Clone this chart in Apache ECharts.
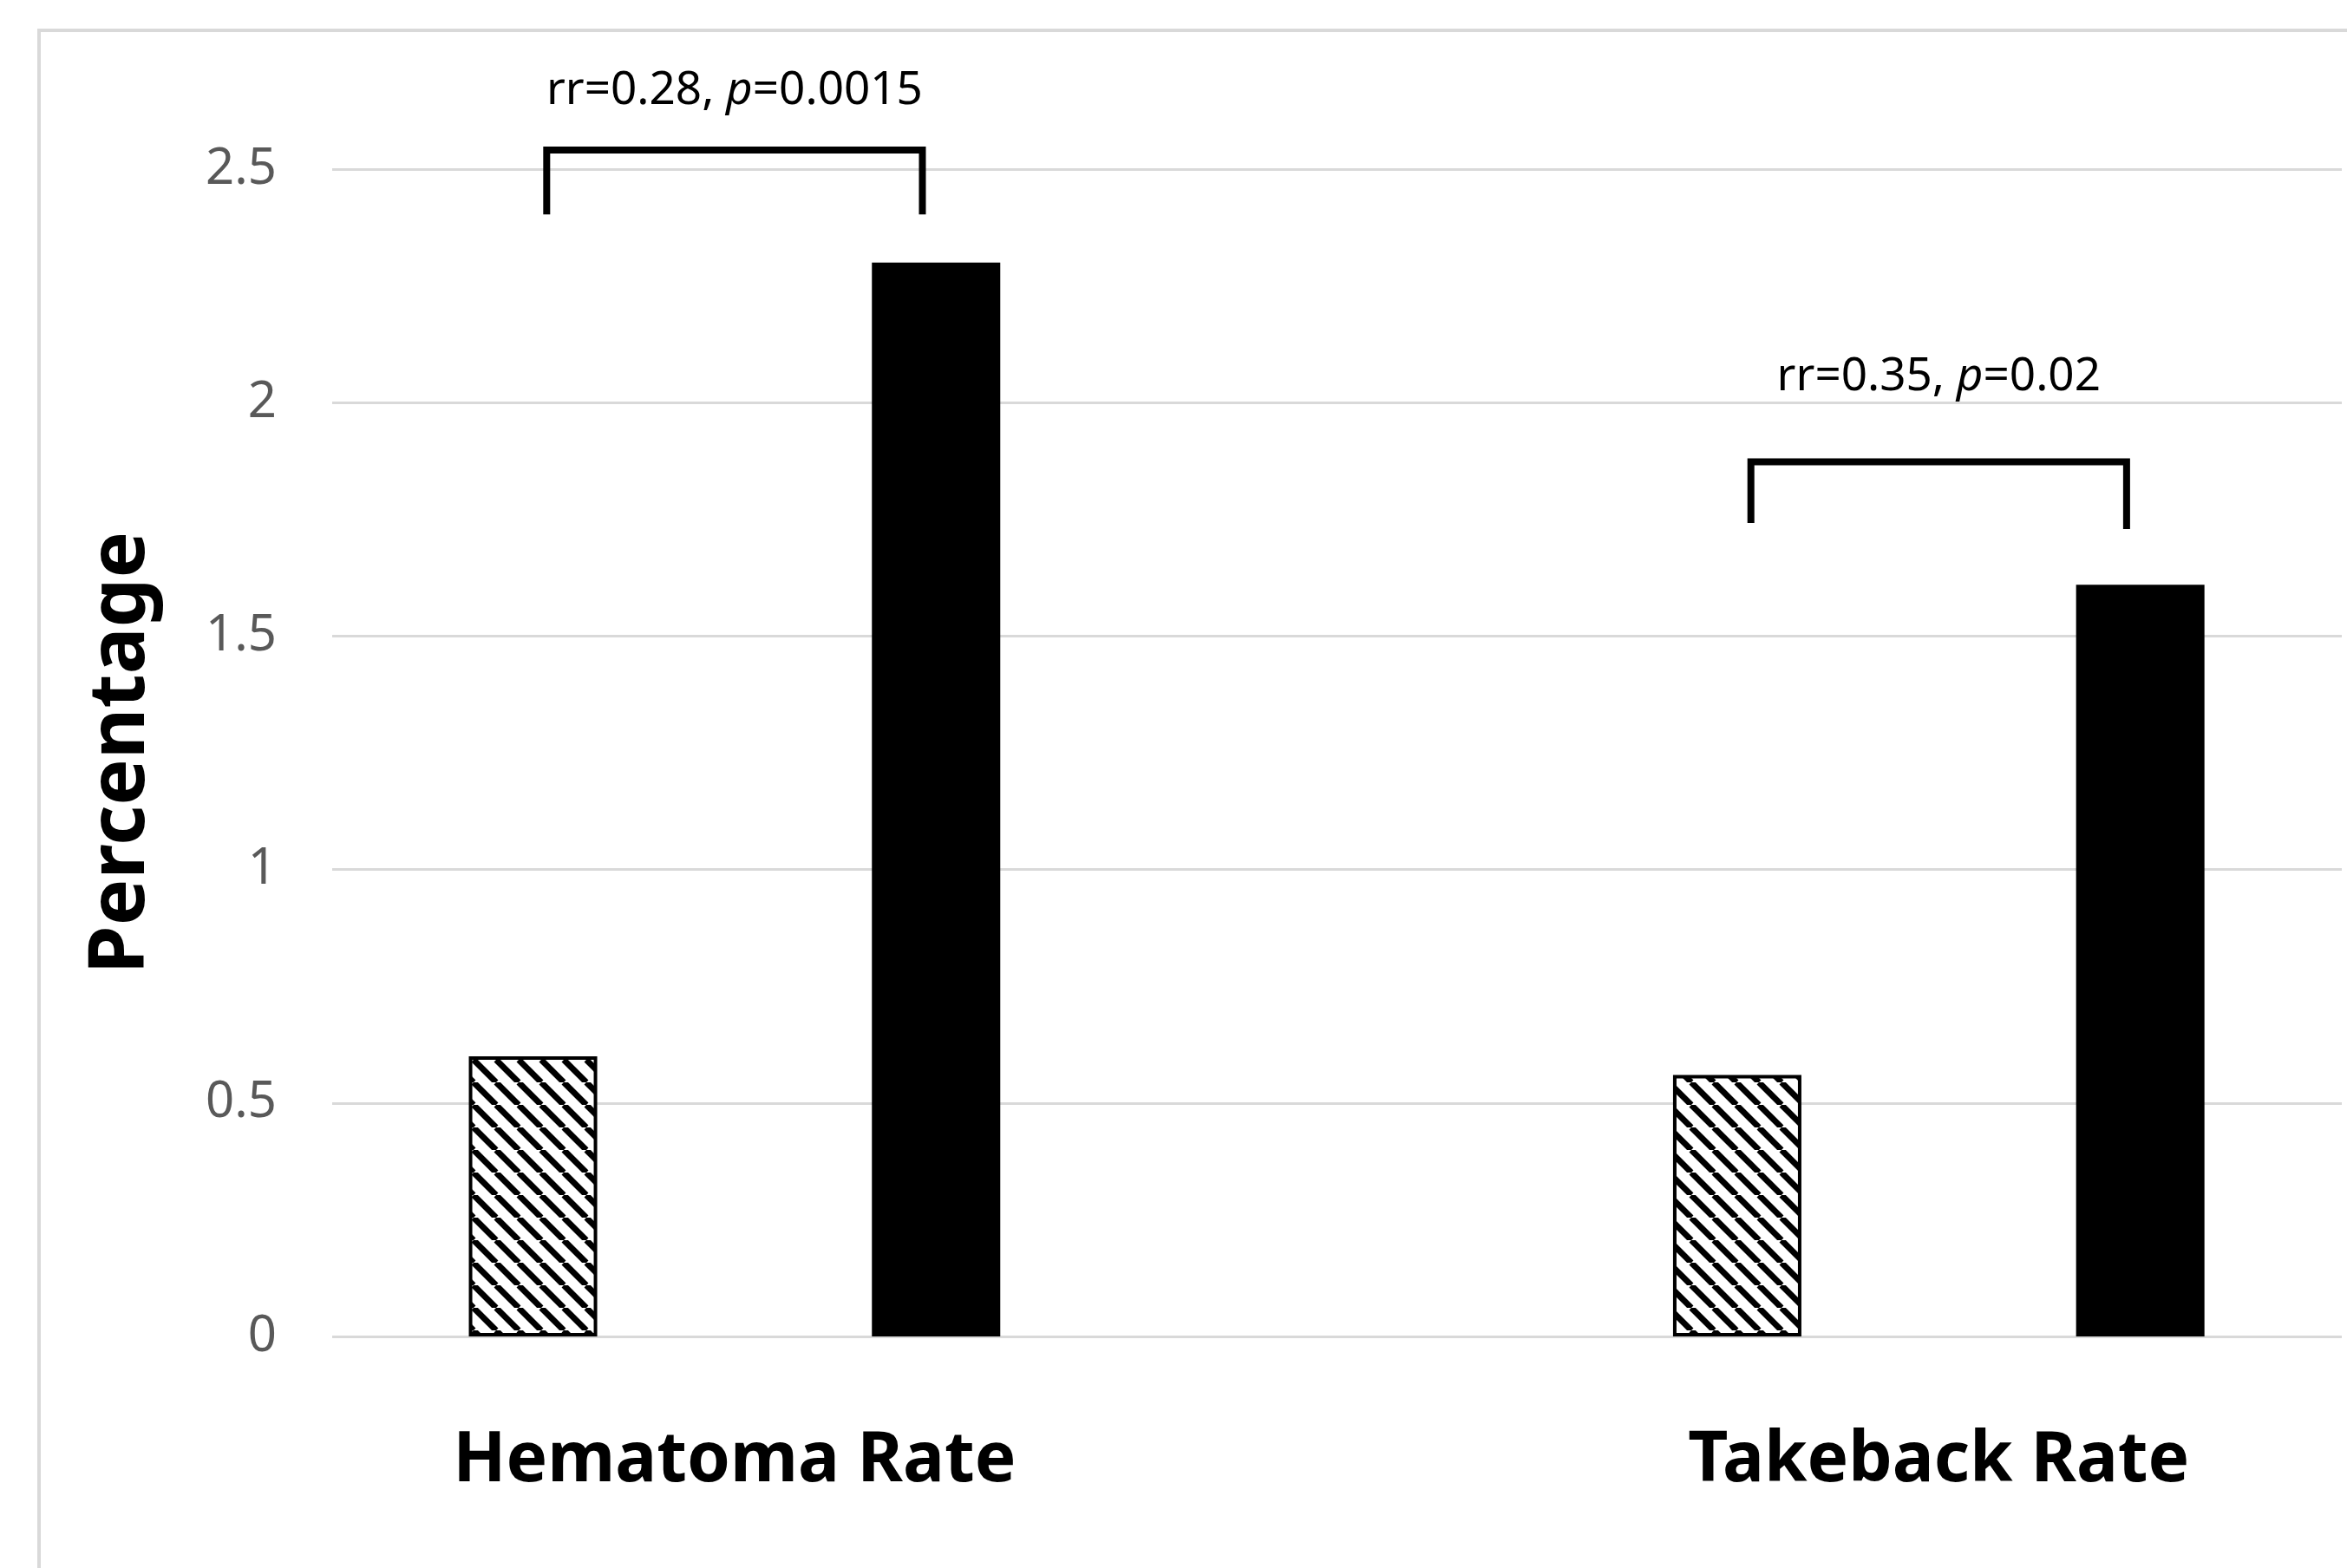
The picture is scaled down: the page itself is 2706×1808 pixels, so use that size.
<!DOCTYPE html>
<html>
<head>
<meta charset="utf-8">
<script src="https://cdn.jsdelivr.net/npm/echarts@6/dist/echarts.min.js"></script>
<style>
html,body{margin:0;padding:0;background:#ffffff;}
#chart{width:2706px;height:1808px;}
</style>
</head>
<body>
<div id="chart"></div>
<script>
// ---- data ----
const categories = ['Hematoma Rate', 'Takeback Rate'];
const hatchedValues = [0.60, 0.56];
const solidValues = [2.30, 1.61];
const yTickMin = 0, yTickMax = 2.5, yTickStep = 0.5;
const rrValues = ['0.28', '0.35'];
const pValues = ['0.0015', '0.02'];
const bracketTop = [2.541, 1.873];
const bracketLeftFoot = [2.403, 1.742];
const bracketRightFoot = [2.403, 1.729];
const annotationLevel = [2.667, 2.054];

// ---- hatch pattern ----
function makeHatch() {
  const s = 26;
  const c = document.createElement('canvas');
  c.width = s; c.height = s;
  const g = c.getContext('2d');
  g.fillStyle = '#ffffff';
  g.fillRect(0, 0, s, s);
  g.strokeStyle = '#000000';
  g.lineWidth = 7;
  g.beginPath();
  for (let k = -1; k <= 1; k++) {
    g.moveTo(k * s, 0);
    g.lineTo(k * s + s, s);
  }
  g.stroke();
  return c;
}

const chart = echarts.init(document.getElementById('chart'), null, {renderer: 'canvas'});
const FONT = "'Noto Sans', 'Open Sans', sans-serif";

const option = {
  animation: false,
  backgroundColor: '#ffffff',
  textStyle: {fontFamily: FONT},
  graphic: [{
    type: 'rect', silent: true, z: 0,
    shape: {x: 45, y: 35, width: 3000, height: 3000},
    style: {fill: 'none', stroke: '#d9d9d9', lineWidth: 4}
  }],
  grid: [
    {left: 383, right: 6, top: 195, height: 1346},
    {left: 846.9, width: 1388.4, top: 195, height: 1346}
  ],
  xAxis: [
    {gridIndex: 0, type: 'category', data: categories, show: false},
    {
      gridIndex: 1, type: 'category', data: categories, boundaryGap: false,
      axisLine: {show: false}, axisTick: {show: false}, splitLine: {show: false},
      axisLabel: {
        show: true, interval: 0, margin: 104,
        fontFamily: FONT, fontSize: 80, fontWeight: 'bold', color: '#000000', lineHeight: 80
      }
    }
  ],
  yAxis: [
    {
      gridIndex: 0, type: 'value', min: yTickMin, max: yTickMax, interval: yTickStep,
      axisLine: {show: false}, axisTick: {show: false},
      splitLine: {show: true, lineStyle: {color: '#d9d9d9', width: 3}},
      axisLabel: {color: '#595959', fontSize: 58, fontFamily: FONT, margin: 64},
      name: 'Percentage', nameLocation: 'middle', nameRotate: 90, nameGap: 198,
      nameTextStyle: {fontSize: 90, fontWeight: 'bold', color: '#000000', fontFamily: FONT}
    },
    {
      gridIndex: 1, type: 'value', min: yTickMin, max: yTickMax, interval: yTickStep, show: false,
      splitLine: {show: false}
    }
  ],
  series: [
    {
      type: 'bar', xAxisIndex: 1, yAxisIndex: 1, clip: false,
      data: hatchedValues, barWidth: 148, barGap: '214%',
      itemStyle: {
        color: {image: makeHatch(), repeat: 'repeat'},
        borderColor: '#000000', borderWidth: 4
      }
    },
    {
      type: 'bar', xAxisIndex: 1, yAxisIndex: 1, clip: false,
      data: solidValues, barWidth: 148, barGap: '214%',
      itemStyle: {color: '#000000'}
    },
    {
      type: 'custom', xAxisIndex: 1, yAxisIndex: 1, clip: false, z: 10,
      data: categories.map((c, i) => [i, bracketTop[i], bracketLeftFoot[i], bracketRightFoot[i], annotationLevel[i]]),
      renderItem: function (params, api) {
        const i = api.value(0);
        const band = api.size([1, 0])[0];
        const cx = api.coord([i, 0])[0];
        const off = band * 0.156;
        const xl = cx - off, xr = cx + off;
        const yT = api.coord([i, api.value(1)])[1];
        const yL = api.coord([i, api.value(2)])[1];
        const yR = api.coord([i, api.value(3)])[1];
        const yA = api.coord([i, api.value(4)])[1];
        const idx = params.dataIndex;
        return {
          type: 'group',
          children: [
            {
              type: 'polyline',
              shape: {points: [[xl, yL], [xl, yT], [xr, yT], [xr, yR]]},
              style: {fill: 'none', stroke: '#000000', lineWidth: 8, lineJoin: 'miter'}
            },
            {
              type: 'text',
              style: {
                x: (xl + xr) / 2, y: yA,
                text: '{a|rr=' + rrValues[idx] + ', }{i|p}{a|=' + pValues[idx] + '}',
                align: 'center', verticalAlign: 'middle',
                rich: {
                  a: {fontSize: 53, fontFamily: FONT, fill: '#000000', color: '#000000'},
                  i: {fontSize: 53, fontFamily: FONT, fontStyle: 'italic', fill: '#000000', color: '#000000'}
                }
              }
            }
          ]
        };
      }
    }
  ]
};
chart.setOption(option);
</script>
</body>
</html>
